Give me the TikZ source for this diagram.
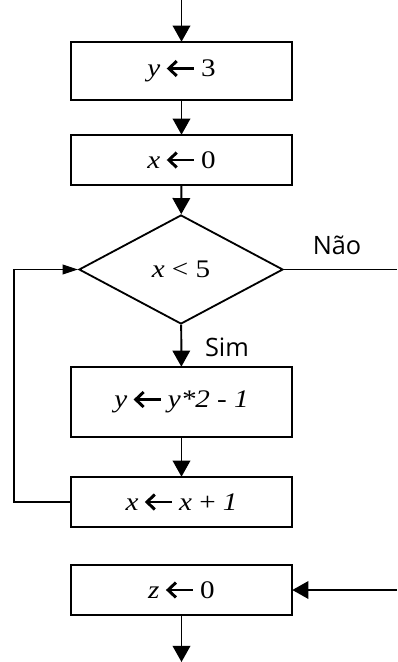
\documentclass[tikz,border=0pt]{standalone}
\usepackage{fontspec}
\setmainfont{Liberation Serif}
\newfontfamily\caixafont[FakeStretch=1.15]{Liberation Serif}
\newfontfamily\rotfont{Open Sans}
\usetikzlibrary{arrows.meta,shapes.geometric}
\newcommand{\atrib}{\hspace{5pt}\tikz[baseline=-6pt,x=1pt,y=1pt,line width=2.1pt]{%
  \draw (1.5,0) -- (19,0); \draw (6.8,5.3) -- (1.2,0) -- (6.8,-5.3);}\hspace{4pt}}

\begin{document}
\begin{tikzpicture}[x=0.025cm,y=-0.025cm,line width=1.3pt,
    passo/.style={draw,inner sep=0pt,minimum width=5.525cm,font=\caixafont\fontsize{18}{22}\selectfont},
    teste/.style={draw,diamond,inner sep=0pt,minimum width=5.1cm,minimum height=2.725cm,font=\caixafont\fontsize{18}{22}\selectfont},
    seta/.style={-{Triangle[width=12.5pt,length=11.5pt]},line width=1.4pt},
    setinha/.style={-{Triangle[width=7pt,length=11pt]},line width=1pt},
    rotulo/.style={font=\rotfont\fontsize{18}{21}\selectfont}]
  \useasboundingbox (0,0) rectangle (397,662);
  % caixas
  \node[passo,minimum height=1.45cm] (y3) at (181.5,71) {\textit{y}\atrib 3};
  \node[passo,minimum height=1.25cm] (x0) at (181.5,160) {\textit{x}\atrib 0};
  \node[teste] (teste) at (181,269.5) {\textit{x} < 5};
  \node[passo,minimum height=1.75cm] (ycalc) at (181.5,402) {\textit{y}\atrib\textit{y*2 - 1}};
  \node[passo,minimum height=1.25cm] (xinc) at (181.5,502) {\textit{x}\atrib\textit{x} + \textit{1}};
  \node[passo,minimum height=1.25cm] (z0) at (181.5,590) {\textit{z}\atrib 0};
  % pontas soltas
  \coordinate (ini) at (181.5,0);
  \coordinate (fim) at (181.5,662);
  \coordinate (nao) at (397,269.5);
  \coordinate (ent) at (397,590);
  \coordinate (volta) at (14,502);
  % ligacoes
  \draw[seta] (ini) -- (y3);
  \draw[seta] (y3) -- (x0);
  \draw[seta] (x0) -- (teste);
  \draw[seta] (teste) -- (ycalc);
  \draw[seta] (ycalc) -- (xinc);
  \draw[line width=1pt] (teste.east) -- (nao);
  \draw[setinha] (xinc.west) -- (volta) |- (teste.west);
  \draw[seta] (ent) -- (z0);
  \draw[seta] (z0) -- (fim);
  % rotulos
  \node[rotulo] (sim) at (227,347) {Sim};
  \node[rotulo] (naotxt) at (337,245) {Não};
\end{tikzpicture}
\end{document}
